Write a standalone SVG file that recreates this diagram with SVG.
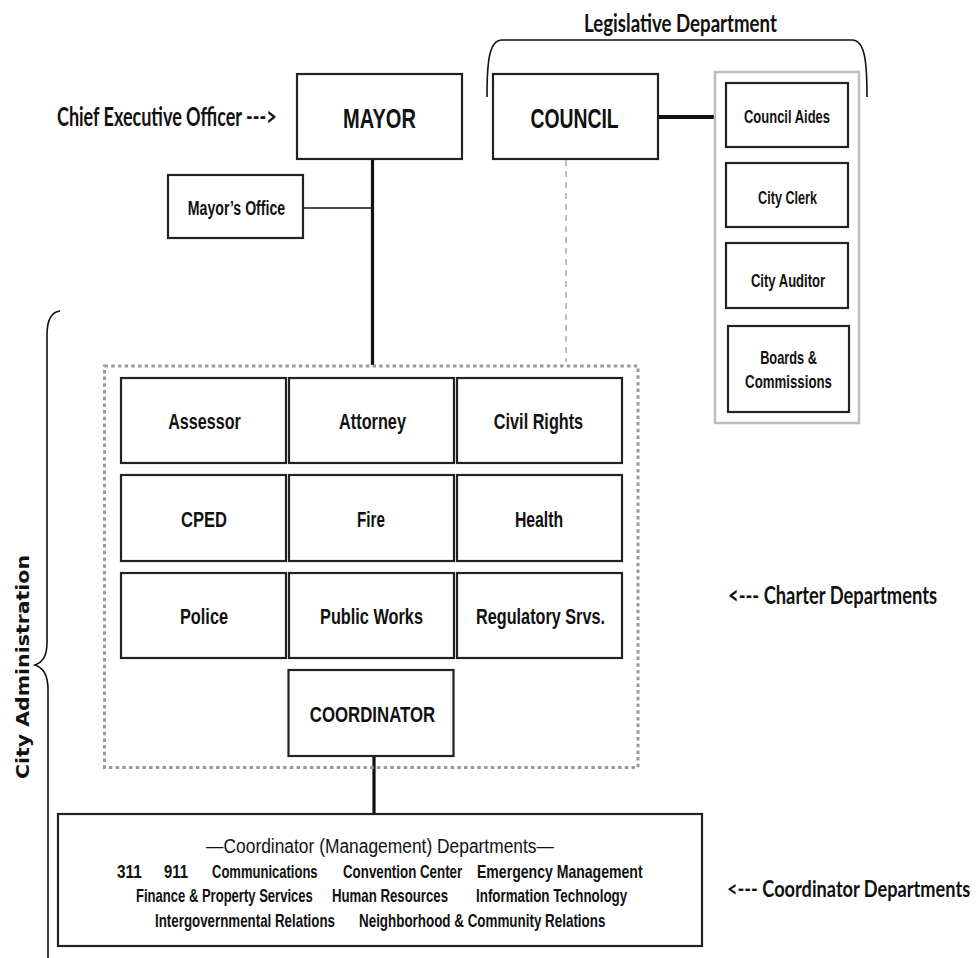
<svg xmlns="http://www.w3.org/2000/svg" width="979" height="958" viewBox="0 0 979 958">
  <style>
    .box { fill: #ffffff; stroke: #222222; stroke-width: 2.2; }
    .panel { fill: #ffffff; stroke: #bdbdbd; stroke-width: 2.5; }
    .frame { fill: none; stroke: #9a9a9a; stroke-width: 3; stroke-dasharray: 3.5 3.2; }
    .lbl { font-family: "Liberation Sans", Arial, sans-serif; font-weight: bold; fill: #111111; text-anchor: middle; }
    .big { font-size: 28px; }
    .mid { font-size: 22px; }
    .small { font-size: 19px; }
    .note { font-family: Lato, "Open Sans", "Liberation Sans", sans-serif; font-weight: bold; fill: #111111; }
    .list { font-family: "Liberation Sans", Arial, sans-serif; font-weight: bold; font-size: 18px; fill: #111111; }
    .brace { fill: none; stroke: #111111; stroke-width: 1.6; }
    .link { stroke: #111111; fill: none; }
  </style>

  <rect width="979" height="958" fill="#ffffff"/>

  <!-- brackets and side annotations (narrow lettering: scaled horizontally) -->
  <g id="annotations">
    <path class="brace" d="M487,97 C487,62 489,40 502,40 L852,40 C865,40 867,62 867,97"/>
    <text class="note" transform="translate(680.5,32) scale(0.8,1)" font-size="24" text-anchor="middle" textLength="241" lengthAdjust="spacingAndGlyphs">Legislative Department</text>
    <text class="note" transform="translate(57,126) scale(0.72,1)" font-size="26" textLength="305" lengthAdjust="spacingAndGlyphs">Chief Executive Officer ---&gt;</text>
    <path class="brace" d="M60,311 C51,312 47,320 47,335 L47,642 C47,656 43,662 35,665 C43,668 48,674 48,690 L48,958"/>
    <text x="0" y="0" transform="translate(29,667) rotate(-90)" font-family="'DejaVu Sans', Verdana, sans-serif" font-weight="bold" font-size="18" fill="#111111" text-anchor="middle" textLength="224" lengthAdjust="spacingAndGlyphs">City Administration</text>
    <text class="note" transform="translate(728,604) scale(0.78,1)" font-size="24" textLength="268" lengthAdjust="spacingAndGlyphs">&lt;--- Charter Departments</text>
    <text class="note" transform="translate(727,897) scale(0.8,1)" font-size="23" textLength="304" lengthAdjust="spacingAndGlyphs">&lt;--- Coordinator Departments</text>
  </g>

  <!-- connectors -->
  <g id="connectors">
    <line class="link" x1="372.5" y1="159" x2="372.5" y2="365" stroke-width="3.2"/>
    <line class="link" x1="303" y1="208" x2="372.5" y2="208" stroke-width="1.6"/>
    <line class="link" x1="658" y1="117" x2="715" y2="117" stroke-width="4"/>
    <line x1="566" y1="160" x2="566" y2="362" stroke="#aaaaaa" stroke-width="1.5" stroke-dasharray="6 5"/>
    <line class="link" x1="374" y1="756" x2="374" y2="814" stroke-width="3.2"/>
  </g>

  <!-- executive -->
  <g id="mayor">
    <rect class="box" x="297" y="74" width="165" height="85"/>
    <text class="lbl big" transform="translate(379.5,128) scale(0.7,1)" textLength="104" lengthAdjust="spacingAndGlyphs">MAYOR</text>
  </g>
  <g id="mayors-office">
    <rect class="box" x="168" y="175" width="135" height="63"/>
    <text class="lbl" transform="translate(236.5,215) scale(0.7,1)" font-size="21" textLength="139" lengthAdjust="spacingAndGlyphs">Mayor’s Office</text>
  </g>

  <!-- legislative -->
  <g id="council">
    <rect class="box" x="493" y="74" width="165" height="85"/>
    <text class="lbl big" transform="translate(574.5,128) scale(0.7,1)" textLength="126" lengthAdjust="spacingAndGlyphs">COUNCIL</text>
  </g>
  <g id="legislative-staff">
    <rect class="panel" x="715" y="72" width="144" height="351"/>
  </g>
  <g id="council-aides">
    <rect class="box" x="726" y="83" width="122" height="64"/>
    <text class="lbl small" transform="translate(787,123) scale(0.7,1)" textLength="123" lengthAdjust="spacingAndGlyphs">Council Aides</text>
  </g>
  <g id="city-clerk">
    <rect class="box" x="726" y="163" width="122" height="64"/>
    <text class="lbl small" transform="translate(787.5,204) scale(0.7,1)" textLength="84" lengthAdjust="spacingAndGlyphs">City Clerk</text>
  </g>
  <g id="city-auditor">
    <rect class="box" x="726" y="243" width="122" height="65"/>
    <text class="lbl small" transform="translate(788,287) scale(0.7,1)" textLength="106" lengthAdjust="spacingAndGlyphs">City Auditor</text>
  </g>
  <g id="boards-commissions">
    <rect class="box" x="728" y="326" width="121" height="86"/>
    <text class="lbl small" transform="translate(788.5,364) scale(0.7,1)" textLength="81" lengthAdjust="spacingAndGlyphs">Boards &amp;</text>
    <text class="lbl small" transform="translate(788.5,388) scale(0.7,1)" textLength="124" lengthAdjust="spacingAndGlyphs">Commissions</text>
  </g>

  <!-- charter departments -->
  <g id="charter-frame">
    <rect class="frame" x="104.5" y="366" width="533.5" height="401.5"/>
  </g>
  <g id="assessor">
    <rect class="box" x="121" y="378" width="165" height="85"/>
    <text class="lbl mid" transform="translate(204.5,429) scale(0.72,1)" textLength="101" lengthAdjust="spacingAndGlyphs">Assessor</text>
  </g>
  <g id="attorney">
    <rect class="box" x="289" y="378" width="165" height="85"/>
    <text class="lbl mid" transform="translate(372.5,429) scale(0.72,1)" textLength="93" lengthAdjust="spacingAndGlyphs">Attorney</text>
  </g>
  <g id="civil-rights">
    <rect class="box" x="457" y="378" width="165" height="85"/>
    <text class="lbl mid" transform="translate(538.5,429) scale(0.72,1)" textLength="124" lengthAdjust="spacingAndGlyphs">Civil Rights</text>
  </g>
  <g id="cped">
    <rect class="box" x="121" y="475" width="165" height="86"/>
    <text class="lbl mid" transform="translate(204,527) scale(0.72,1)" textLength="64" lengthAdjust="spacingAndGlyphs">CPED</text>
  </g>
  <g id="fire">
    <rect class="box" x="289" y="475" width="165" height="86"/>
    <text class="lbl mid" transform="translate(371,527) scale(0.72,1)" textLength="39" lengthAdjust="spacingAndGlyphs">Fire</text>
  </g>
  <g id="health">
    <rect class="box" x="457" y="475" width="165" height="86"/>
    <text class="lbl mid" transform="translate(539,527) scale(0.72,1)" textLength="67" lengthAdjust="spacingAndGlyphs">Health</text>
  </g>
  <g id="police">
    <rect class="box" x="121" y="573" width="165" height="85"/>
    <text class="lbl mid" transform="translate(204,624) scale(0.72,1)" textLength="67" lengthAdjust="spacingAndGlyphs">Police</text>
  </g>
  <g id="public-works">
    <rect class="box" x="289" y="573" width="165" height="85"/>
    <text class="lbl mid" transform="translate(371.5,624) scale(0.72,1)" textLength="143" lengthAdjust="spacingAndGlyphs">Public Works</text>
  </g>
  <g id="regulatory-services">
    <rect class="box" x="457" y="573" width="165" height="85"/>
    <text class="lbl mid" transform="translate(540.5,624) scale(0.72,1)" textLength="179" lengthAdjust="spacingAndGlyphs">Regulatory Srvs.</text>
  </g>
  <g id="coordinator">
    <rect class="box" x="288.5" y="670" width="165" height="86"/>
    <text class="lbl mid" transform="translate(372.5,722) scale(0.72,1)" textLength="174" lengthAdjust="spacingAndGlyphs">COORDINATOR</text>
  </g>

  <!-- coordinator departments -->
  <g id="coordinator-departments">
    <rect class="box" x="58" y="814" width="644" height="132"/>
    <text transform="translate(380,853) scale(0.83,1)" font-family="'Liberation Sans', Arial, sans-serif" font-size="21" fill="#111111" text-anchor="middle" textLength="419" lengthAdjust="spacingAndGlyphs">—Coordinator (Management) Departments—</text>
    <text class="list" transform="translate(117,878) scale(0.8,1)" textLength="31" lengthAdjust="spacingAndGlyphs">311</text>
    <text class="list" transform="translate(164,878) scale(0.8,1)" textLength="30" lengthAdjust="spacingAndGlyphs">911</text>
    <text class="list" transform="translate(212,878) scale(0.8,1)" textLength="132" lengthAdjust="spacingAndGlyphs">Communications</text>
    <text class="list" transform="translate(343,878) scale(0.8,1)" textLength="149" lengthAdjust="spacingAndGlyphs">Convention Center</text>
    <text class="list" transform="translate(477,878) scale(0.8,1)" textLength="207" lengthAdjust="spacingAndGlyphs">Emergency Management</text>
    <text class="list" transform="translate(136,902) scale(0.8,1)" textLength="221" lengthAdjust="spacingAndGlyphs">Finance &amp; Property Services</text>
    <text class="list" transform="translate(332,902) scale(0.8,1)" textLength="145" lengthAdjust="spacingAndGlyphs">Human Resources</text>
    <text class="list" transform="translate(476,902) scale(0.8,1)" textLength="189" lengthAdjust="spacingAndGlyphs">Information Technology</text>
    <text class="list" transform="translate(155,927) scale(0.8,1)" textLength="225" lengthAdjust="spacingAndGlyphs">Intergovernmental  Relations</text>
    <text class="list" transform="translate(359,927) scale(0.8,1)" textLength="308" lengthAdjust="spacingAndGlyphs">Neighborhood &amp; Community Relations</text>
  </g>
</svg>
